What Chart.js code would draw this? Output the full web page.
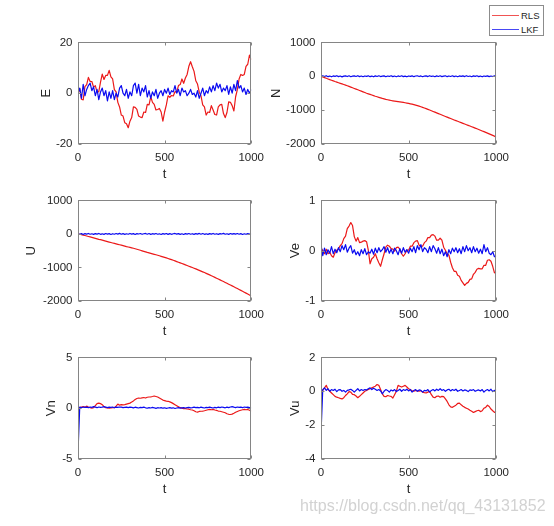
<!DOCTYPE html>
<html>
<head>
<meta charset="utf-8">
<script src="https://cdn.jsdelivr.net/npm/chart.js@4.4.1/dist/chart.umd.min.js"></script>
<style>
  html, body { margin: 0; padding: 0; background: #fff; }
  body { width: 554px; height: 526px; position: relative; overflow: hidden; font-family: "Liberation Sans", Arial, sans-serif; }
  canvas { position: absolute; }
  #legende { position: absolute; left: 489px; top: 5px; width: 55px; height: 31px; box-sizing: border-box; border: 1px solid #8c8c8c; background: #fff; z-index: 2; }
  #legende .trait { position: absolute; left: 2px; width: 27px; height: 1px; opacity: 0.75; }
  #legende .nom { position: absolute; left: 31px; font-size: 9.5px; line-height: 11px; color: #262626; }
  #filigrane { position: absolute; left: 300px; top: 497px; font-size: 16px; line-height: 18px; color: #d2d2d2; white-space: nowrap; z-index: 2; }
</style>
</head>
<body>
<div id="legende"></div>
<div id="filigrane">https://blog.csdn.net/qq_43131852</div>
<script>
/* six sous-graphes RLS / LKF, style figure MATLAB */

const t = [
  0, 10, 20, 30, 40, 50, 60, 70, 80, 90,
  100, 110, 120, 130, 140, 150, 160, 170, 180, 190,
  200, 210, 220, 230, 240, 250, 260, 270, 280, 290,
  300, 310, 320, 330, 340, 350, 360, 370, 380, 390,
  400, 410, 420, 430, 440, 450, 460, 470, 480, 490,
  500, 510, 520, 530, 540, 550, 560, 570, 580, 590,
  600, 610, 620, 630, 640, 650, 660, 670, 680, 690,
  700, 710, 720, 730, 740, 750, 760, 770, 780, 790,
  800, 810, 820, 830, 840, 850, 860, 870, 880, 890,
  900, 910, 920, 930, 940, 950, 960, 970, 980, 990,
  1000
];
const ticksT = [0, 500, 1000];

const eRls = [
  0, 1.8, -2.4, -2.6, 2.6, 3.4, 6.2, 4.6, 4.6, 2.4,
  3.0, 0.4, 0.6, 4.4, 7.5, 5.4, 7.0, 7.0, 9.0, 6.4,
  5.6, 1.4, 0.5, -3.6, -5.4, -8.6, -9.0, -11.6, -12.0, -13.6,
  -11.0, -9.6, -5.4, -5.6, -6.4, -9.0, -9.4, -9.6, -7.4, -7.6,
  -4.4, -4.6, -1.4, -3.6, -4.4, -6.6, -6.4, -6.0, -7.4, -11.0,
  -7.4, -4.6, -1.0, -1.6, -0.9, -1.1, 0.6, 0.4, 3.0, 3.4,
  5.6, 3.9, 6.0, 7.4, 10.6, 12.4, 10.4, 8.6, 4.9, 3.6,
  0.4, -1.0, -4.6, -5.4, -8.6, -7.4, -7.6, -4.9, -6.6, -8.4,
  -8.6, -5.4, -4.6, -4.4, -8.0, -9.6, -7.6, -3.4, -3.6, -4.9,
  -7.0, -1.4, 1.4, 5.6, 7.4, 7.0, 7.4, 10.6, 11.4, 15.0,
  13.2
];
const eLkf = [
  0, 2, -2, 3.5, -1, 1.5, 3, 4, 1, 2.5,
  -1, 1.5, -2.5, 0.5, 2, -1, 1, -3, 0.5, -2,
  1, -2.5, 0, -1.5, 2, 3, 0, -1, 1.5, -2,
  0.5, -1, 3, 4, 0, 3.5, -1, 2, 0.5, 3,
  -1.5, 1, -2, 0.5, -1, 1.5, -2, 0, 1, -1,
  1.5, 0, 2, -0.5, 1, 0.5, 3, 0, 1.5, -1,
  2, 0.5, 1, -1, 0, 1.5, -0.5, 0, -1.5, 1,
  -2, 0, 2, -1, 1, 0, 2.5, 0.5, 3, 1,
  4, 2, 3.5, 0.5, 2, 1, 3, -0.5, 2.5, 0,
  3.5, 1, 5, 2, 3, 0.5, 2, -0.5, 1.5, 0,
  1.5
];
const eTicks = [-20, 0, 20];

const nRls = [
  0, -20, -40, -60, -80, -100, -118, -136, -155, -172,
  -190, -208, -226, -244, -262, -280, -300, -320, -340, -360,
  -380, -400, -420, -440, -460, -480, -500, -518, -536, -554,
  -572, -590, -606, -622, -638, -654, -668, -682, -694, -705,
  -715, -724, -732, -740, -748, -756, -764, -773, -782, -792,
  -802, -813, -825, -838, -852, -867, -883, -900, -918, -937,
  -957, -977, -997, -1018, -1039, -1060, -1081, -1102, -1123, -1144,
  -1165, -1186, -1207, -1228, -1249, -1270, -1290, -1310, -1330, -1350,
  -1370, -1390, -1410, -1430, -1450, -1470, -1490, -1510, -1530, -1550,
  -1570, -1592, -1614, -1636, -1658, -1680, -1702, -1724, -1746, -1768,
  -1800
];
const nLkf = [
  0, 14, -9, 18, -12, 6, -15, 10, -4, 16,
  -11, 8, -17, 5, 12, -8, 15, -13, 4, 11,
  -6, 17, -10, 7, -14, 9, -3, 13, -12, 6,
  -16, 11, -7, 15, -9, 4, 12, -14, 8, -5,
  16, -10, 7, -13, 10, -6, 14, -11, 5, -15,
  9, -4, 13, -12, 7, 15, -8, 10, -14, 6,
  12, -9, 16, -5, 8, -13, 11, -7, 14, -10,
  5, 13, -12, 9, -6, 15, -11, 7, -14, 10,
  -4, 12, -9, 16, -7, 8, -13, 11, -5, 14,
  -10, 6, -15, 9, -3, 12, -11, 7, -8, 10,
  4
];
const nTicks = [-2000, -1000, 0, 1000];

const uRls = [
  0, -10, -22, -35, -48, -62, -76, -90, -104, -118,
  -132, -146, -160, -172, -186, -200, -214, -228, -242, -256,
  -270, -283, -296, -310, -323, -336, -350, -364, -378, -390,
  -402, -414, -428, -442, -456, -472, -488, -504, -520, -536,
  -552, -566, -580, -594, -608, -622, -636, -652, -668, -684,
  -700, -716, -733, -750, -768, -786, -805, -824, -843, -862,
  -882, -902, -922, -942, -962, -982, -1002, -1022, -1043, -1064,
  -1086, -1108, -1130, -1152, -1175, -1198, -1222, -1246, -1270, -1295,
  -1320, -1345, -1370, -1395, -1420, -1446, -1472, -1498, -1524, -1550,
  -1576, -1603, -1630, -1657, -1684, -1711, -1738, -1765, -1792, -1820,
  -1848
];
const uLkf = [
  0, -12, 9, -16, 11, -5, 14, -9, 6, -13,
  10, -7, 15, -11, 4, -14, 12, -6, 9, -15,
  7, -10, 13, -4, 16, -8, 11, -12, 5, -9,
  14, -6, 10, -15, 8, -3, 12, -11, 6, 15,
  -9, 11, -14, 7, -5, 13, -10, 4, -16, 9,
  -6, 12, -13, 8, -11, 5, 14, -7, 10, -12,
  6, -15, 9, -4, 13, -10, 7, -14, 11, -5,
  15, -8, 12, -11, 4, -13, 9, -6, 14, -10,
  7, -12, 10, -3, 16, -9, 5, -14, 12, -7,
  11, -5, 13, -10, 8, -15, 6, -11, 9, -4,
  3
];
const uTicks = [-2000, -1000, 0, 1000];

const veRls = [
  0.05, 0, -0.06, 0.03, -0.06, -0.03, -0.1, -0.13, -0.04, 0.01,
  0.04, 0.1, 0.14, 0.24, 0.29, 0.44, 0.49, 0.56, 0.5, 0.28,
  0.19, 0.26, 0.16, 0.17, 0.19, 0.2, 0.18, 0.01, -0.26, -0.16,
  -0.13, -0.06, -0.16, -0.24, -0.31, -0.18, -0.06, 0.07, 0.11, 0.09,
  0.04, 0.03, -0.01, 0.06, 0.07, 0.03, -0.06, -0.11, -0.06, 0.01,
  0.01, 0.09, 0.09, 0.16, 0.19, 0.2, 0.11, 0.09, 0.09, 0.16,
  0.19, 0.26, 0.26, 0.31, 0.32, 0.29, 0.21, 0.21, 0.25, 0.21,
  0.07, 0.01, -0.06, -0.09, -0.23, -0.34, -0.41, -0.41, -0.49, -0.51,
  -0.59, -0.64, -0.69, -0.65, -0.63, -0.57, -0.56, -0.47, -0.43, -0.37,
  -0.35, -0.36, -0.36, -0.29, -0.29, -0.19, -0.18, -0.21, -0.31, -0.44,
  -0.42
];
const veLkf = [
  0.12, -0.1, 0.05, -0.08, 0.02, -0.05, 0.08, -0.06, 0.03, -0.04,
  0.06, -0.02, 0.1, 0.02, 0.12, -0.03, 0.05, 0.1, -0.05, 0.02,
  -0.08, -0.02, -0.1, 0.02, -0.06, 0.04, -0.08, -0.02, -0.05, 0.03,
  -0.07, 0.05, -0.04, 0.06, -0.02, 0.02, 0.08, -0.03, 0.06, -0.05,
  0.03, -0.06, 0.05, 0, -0.08, 0.04, -0.05, 0.06, -0.03, 0.02,
  -0.05, 0.05, -0.02, 0.08, -0.04, 0.1, 0.02, 0.12, -0.02, 0.06,
  0.03, -0.04, 0.08, -0.02, 0.1, 0.04, -0.05, 0.06, -0.06, 0.03,
  -0.1, -0.02, -0.12, 0.02, -0.06, 0.05, -0.02, 0.06, -0.04, 0.04,
  -0.06, 0.08, -0.02, 0.1, 0, 0.06, -0.04, 0.08, -0.02, 0.05,
  -0.05, 0.03, -0.06, 0.12, -0.02, 0.06, -0.05, -0.08, -0.02, -0.12,
  -0.1
];
const veTicks = [-1, 0, 1];

const vnRls = [
  0, 0.05, 0.1, 0.15, 0.1, 0.2, 0.12, 0.05, 0, 0.05,
  0.25, 0.45, 0.5, 0.45, 0.35, 0.15, 0.05, 0.02, 0, 0.02,
  0.05, 0.05, 0.2, 0.4, 0.3, 0.35, 0.32, 0.35, 0.4, 0.45,
  0.5, 0.6, 0.72, 0.85, 0.95, 1.0, 0.98, 1.02, 1.05, 1.0,
  1.08, 1.1, 1.12, 1.15, 1.2, 1.15, 1.1, 1.0, 0.9, 0.8,
  0.75, 0.7, 0.68, 0.62, 0.55, 0.45, 0.35, 0.25, 0.15, 0.05,
  0, -0.05, -0.05, -0.08, -0.1, -0.15, -0.18, -0.25, -0.35, -0.38,
  -0.32, -0.3, -0.28, -0.25, -0.2, -0.15, -0.12, -0.15, -0.12, -0.18,
  -0.22, -0.28, -0.3, -0.35, -0.4, -0.45, -0.55, -0.6, -0.62, -0.58,
  -0.5, -0.4, -0.32, -0.25, -0.2, -0.15, -0.12, -0.15, -0.12, -0.2,
  -0.3
];
const vnLkf = [
  -4.3, 0.1, 0.05, 0.12, 0.08, 0.1, 0.05, 0.12, 0.08, 0.15,
  0.1, 0.05, 0.12, 0.08, 0.1, 0.15, 0.1, 0.05, 0.1, 0.08,
  0.12, 0.05, 0.1, 0.08, 0.12, 0.1, 0.05, 0.08, 0.1, 0.05,
  0.1, 0.08, 0.03, 0.1, 0.06, 0.02, 0.08, 0.05, 0.1, 0.04,
  0, 0.06, 0.02, 0.08, 0.04, -0.02, 0.05, 0.02, 0.06, 0,
  0.04, -0.02, 0.02, 0.05, 0, 0.04, -0.03, 0.02, 0.05, 0,
  0.03, 0.06, 0.02, 0.05, 0.08, 0.03, 0.06, 0.1, 0.05, 0.08,
  0.04, 0.1, 0.06, 0.02, 0.08, 0.05, 0.1, 0.06, 0.02, 0.08,
  0.04, 0.1, 0.06, 0.12, 0.08, 0.04, 0.1, 0.06, 0.12, 0.15,
  0.1, 0.06, 0.12, 0.08, 0.1, 0.05, 0.12, 0.08, 0.1, 0.05,
  0
];
const vnTicks = [-5, 0, 5];

const vuRls = [
  0, 0.05, 0.2, 0.35, 0.1, 0, -0.1, -0.2, -0.3, -0.35,
  -0.38, -0.42, -0.45, -0.38, -0.25, -0.15, -0.02, -0.05, -0.18, -0.2,
  -0.28, -0.38, -0.3, -0.2, -0.1, 0, 0.05, 0.1, 0.15, 0.2,
  0.25, 0.3, 0.4, 0.35, 0.1, -0.15, -0.3, -0.32, -0.25, -0.28,
  -0.3, -0.4, -0.2, 0, 0.35, 0.3, 0.25, 0.3, 0.35, 0.25,
  0.15, 0.1, 0.02, 0, 0.05, 0.02, 0, 0.03, -0.05, -0.08,
  -0.1, -0.05, 0, -0.2, -0.35, -0.38, -0.3, -0.28, -0.35, -0.3,
  -0.32, -0.45, -0.6, -0.8, -0.92, -0.95, -0.88, -0.82, -0.72, -0.7,
  -0.8, -0.88, -0.95, -1.0, -1.05, -1.12, -1.18, -1.25, -1.2, -1.15,
  -1.12, -1.2, -1.15, -1.0, -0.95, -0.82, -0.9, -1.05, -1.15, -1.25,
  -1.18
];
const vuLkf = [
  -2.5, 0.1, 0.2, 0.05, 0.15, 0, 0.1, 0.05, 0.12, -0.02,
  0.08, 0.1, 0, 0.05, -0.05, 0.05, 0.08, 0.12, 0.05, -0.05,
  0.05, 0.15, 0.02, 0.1, 0.05, 0.1, 0.08, 0.15, 0.2, 0.1,
  0.18, 0.12, 0.05, 0.1, 0.02, -0.15, 0, 0.1, 0.05, -0.05,
  0.08, 0.02, 0.1, -0.02, 0.05, 0.12, 0, 0.1, 0.05, 0.12,
  0.02, 0.1, -0.05, 0.05, 0.1, 0, 0.08, 0.05, -0.05, 0.05,
  0.02, 0.1, -0.05, 0.05, 0.1, 0.02, 0.12, 0.05, 0.15, 0.05,
  0.1, 0, 0.08, 0.12, 0.02, 0.1, 0.05, 0.12, 0, 0.05,
  0.1, 0.02, 0.08, 0.05, -0.02, 0.08, 0.05, 0.1, 0, 0.05,
  0.08, 0.02, 0.1, -0.05, 0.05, 0.1, 0.02, 0.12, -0.02, 0.05,
  0.1
];
const vuTicks = [-4, -2, 0, 2];

const series = ["RLS", "LKF"];
const couleurs = ["rgb(235,25,25)", "rgb(10,10,240)"];

/* mise en page (pixels de la page) */
const AXE_Y = 56, AXE_X = 40, MARGE_HAUT = 10, MARGE_DROITE = 18;
const TEXTE = "#262626", CADRE = "#858585";
const POLICE = "'Liberation Sans', Arial, sans-serif";

const panneaux = [
  { nom: "E",  rls: eRls,  lkf: eLkf,  ticks: eTicks,  zone: [78, 40, 253, 144],  titreX: 46 },
  { nom: "N",  rls: nRls,  lkf: nLkf,  ticks: nTicks,  zone: [321, 40, 498, 144], titreX: 276 },
  { nom: "U",  rls: uRls,  lkf: uLkf,  ticks: uTicks,  zone: [78, 198, 253, 301], titreX: 31 },
  { nom: "Ve", rls: veRls, lkf: veLkf, ticks: veTicks, zone: [321, 198, 498, 301], titreX: 295 },
  { nom: "Vn", rls: vnRls, lkf: vnLkf, ticks: vnTicks, zone: [78, 355, 253, 459], titreX: 51 },
  { nom: "Vu", rls: vuRls, lkf: vuLkf, ticks: vuTicks, zone: [321, 355, 498, 459], titreX: 295 }
];

/* cadre complet + graduations vers l'intérieur, comme MATLAB */
const cadreMatlab = {
  id: "cadreMatlab",
  afterDraw(chart) {
    const { ctx, chartArea: a, scales: { x, y } } = chart;
    const g = Math.round(a.left) + 0.5, d = Math.round(a.right) - 0.5;
    const h = Math.round(a.top) + 0.5, b = Math.round(a.bottom) - 0.5;
    ctx.save();
    ctx.strokeStyle = CADRE;
    ctx.lineWidth = 1;
    ctx.strokeRect(g, h, d - g, b - h);
    ctx.beginPath();
    x.ticks.forEach(tk => {
      const px = Math.round(x.getPixelForValue(tk.value)) + 0.5;
      ctx.moveTo(px, b); ctx.lineTo(px, b - 3);
      ctx.moveTo(px, h); ctx.lineTo(px, h + 3);
    });
    y.ticks.forEach(tk => {
      const py = Math.round(y.getPixelForValue(tk.value)) + 0.5;
      ctx.moveTo(g, py); ctx.lineTo(g + 3, py);
      ctx.moveTo(d, py); ctx.lineTo(d - 3, py);
    });
    ctx.stroke();
    ctx.restore();
  }
};

function creerPanneau(p) {
  const [g, h, d, b] = p.zone;
  const largeur = AXE_Y + (d - g) + MARGE_DROITE;
  const hauteur = MARGE_HAUT + (b - h) + AXE_X;
  const canvas = document.createElement("canvas");
  canvas.width = largeur;
  canvas.height = hauteur;
  canvas.style.left = (g - AXE_Y) + "px";
  canvas.style.top = (h - MARGE_HAUT) + "px";
  document.body.appendChild(canvas);

  const padTitre = p.titreX - (g - AXE_Y) - 13 * 1.2 / 2;
  const valeurs = [p.rls, p.lkf];

  new Chart(canvas.getContext("2d"), {
    type: "line",
    data: {
      datasets: series.map((s, k) => ({
        label: s,
        data: t.map((v, i) => ({ x: v, y: valeurs[k][i] })),
        borderColor: couleurs[k],
        borderWidth: 1.2,
        pointRadius: 0,
        order: k === 0 ? 1 : 0
      }))
    },
    options: {
      responsive: false,
      animation: false,
      events: [],
      devicePixelRatio: 1,
      layout: { padding: { left: 0, top: MARGE_HAUT, right: MARGE_DROITE, bottom: 0 } },
      plugins: { legend: { display: false }, tooltip: { enabled: false } },
      elements: { line: { tension: 0, borderJoinStyle: "round" } },
      scales: {
        x: {
          type: "linear",
          min: ticksT[0],
          max: ticksT[ticksT.length - 1],
          afterBuildTicks: s => { s.ticks = ticksT.map(v => ({ value: v })); },
          afterFit: s => { s.height = AXE_X; },
          grid: { display: false, drawTicks: false },
          border: { display: false },
          ticks: { padding: 7, color: TEXTE, font: { family: POLICE, size: 11.5 }, maxRotation: 0, autoSkip: false, callback: v => String(v) },
          title: { display: true, text: "t", color: TEXTE, font: { family: POLICE, size: 13 }, padding: { top: 0, bottom: 2 } }
        },
        y: {
          type: "linear",
          min: p.ticks[0],
          max: p.ticks[p.ticks.length - 1],
          afterBuildTicks: s => { s.ticks = p.ticks.map(v => ({ value: v })); },
          afterFit: s => { s.width = AXE_Y; },
          grid: { display: false, drawTicks: false },
          border: { display: false },
          ticks: { padding: 5.5, color: TEXTE, font: { family: POLICE, size: 11.5 }, autoSkip: false, callback: v => String(v) },
          title: { display: true, text: p.nom, color: TEXTE, font: { family: POLICE, size: 13 }, padding: { top: padTitre, bottom: 0 } }
        }
      }
    },
    plugins: [cadreMatlab]
  });
}

panneaux.forEach(creerPanneau);

/* légende commune, en haut à droite */
const legende = document.getElementById("legende");
series.forEach((s, k) => {
  const y = 9 + k * 14;
  const trait = document.createElement("span");
  trait.className = "trait";
  trait.style.top = y + "px";
  trait.style.background = couleurs[k];
  const nom = document.createElement("span");
  nom.className = "nom";
  nom.style.top = (y - 5.5) + "px";
  nom.textContent = s;
  legende.appendChild(trait);
  legende.appendChild(nom);
});
</script>
</body>
</html>
